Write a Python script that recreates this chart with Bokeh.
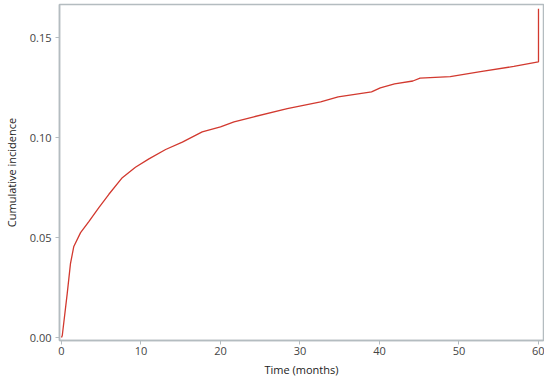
from bokeh.plotting import figure
from bokeh.models import FixedTicker, NumeralTickFormatter, Range1d
from bokeh.embed import file_html
from bokeh.resources import INLINE

time_months = [0.0, 0.1, 0.72, 1.13, 1.55, 2.4, 3.44, 4.7, 5.96, 7.65, 9.3, 11.0,
               13.1, 15.2, 17.7, 20.0, 21.7, 24.2, 28.4, 32.6, 34.8, 39.0, 40.1,
               41.9, 44.2, 45.1, 48.9, 52.7, 56.9, 59.8, 60.0, 60.0]
cum_incidence = [0.0, 0.001, 0.022, 0.037, 0.0456, 0.0525, 0.058, 0.065, 0.0717,
                 0.080, 0.0852, 0.0894, 0.0941, 0.0978, 0.1029, 0.1054, 0.1079,
                 0.1105, 0.1146, 0.118, 0.1205, 0.123, 0.125, 0.127, 0.1284,
                 0.1298, 0.1306, 0.1331, 0.1357, 0.1379, 0.138, 0.1646]
x_ticks = [0, 10, 20, 30, 40, 50, 60]
y_ticks = [0.0, 0.05, 0.10, 0.15]

FONT = "Open Sans"
GRAY = "#b4bcc0"
TEXT = "#444444"

p = figure(width=544, height=381, output_backend="svg", toolbar_location=None,
           x_range=Range1d(-0.25, 60.63), y_range=Range1d(-0.0015, 0.1667),
           min_border_left=58, min_border_right=1, min_border_top=4,
           min_border_bottom=41)

p.line(time_months, cum_incidence, line_color="#d2392f", line_width=1.3)

p.xgrid.visible = False
p.ygrid.visible = False
p.outline_line_color = GRAY
p.outline_line_width = 1.5
p.background_fill_color = "white"
p.border_fill_color = "white"

p.xaxis.ticker = FixedTicker(ticks=x_ticks)
p.yaxis.ticker = FixedTicker(ticks=y_ticks)
p.yaxis.formatter = NumeralTickFormatter(format="0.00")
p.xaxis.axis_label = "Time (months)"
p.yaxis.axis_label = "Cumulative incidence"

for ax in (p.xaxis, p.yaxis):
    ax.axis_line_color = GRAY
    ax.axis_line_width = 1.5
    ax.major_tick_line_color = GRAY
    ax.major_tick_out = 4
    ax.major_tick_in = 0
    ax.minor_tick_line_color = None
    ax.major_label_text_font = FONT
    ax.major_label_text_font_size = "11px"
    ax.major_label_text_color = TEXT
    ax.axis_label_text_font = FONT
    ax.axis_label_text_font_size = "11px"
    ax.axis_label_text_font_style = "normal"
    ax.axis_label_text_color = "#222222"
    ax.major_label_standoff = 2
    ax.axis_label_standoff = 4

p.yaxis.major_label_standoff = 4
p.yaxis.axis_label_standoff = 8

open("out.html", "w").write(file_html(p, INLINE))
